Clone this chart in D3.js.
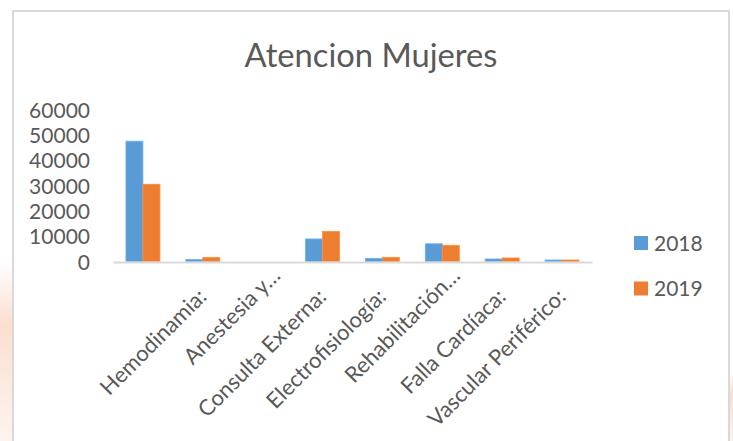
<!DOCTYPE html>
<html><head><meta charset="utf-8">
<script src="https://cdn.jsdelivr.net/npm/d3@7"></script>
<style>html,body{margin:0;padding:0;background:#fff;}svg{display:block;}</style>
</head><body>
<script>
const categories = ["", "Hemodinamia:", "Anestesia y…", "Consulta Externa:", "Electrofisiología:", "Rehabilitación…", "Falla Cardíaca:", "Vascular Periférico:"];
const seriesNames = ["2018", "2019"];
const values2018 = [47500, 800, 0, 8900, 1250, 7000, 1000, 600];
const values2019 = [30500, 1600, 0, 11900, 1650, 6400, 1400, 600];
const yTicks = [0, 10000, 20000, 30000, 40000, 50000, 60000];
const colors = ["#5b9bd5", "#ed7d31"];
const title = "Atencion Mujeres";

const W = 733, H = 441;
const font = "Lato, 'Open Sans', sans-serif";
const txt = "#595959";
const svg = d3.select("body").append("svg").attr("width", W).attr("height", H);

// faint slide background outside chart
const defs = svg.append("defs");
const g1 = defs.append("linearGradient").attr("id","bgL").attr("x1",0).attr("y1",0).attr("x2",0).attr("y2",1);
g1.append("stop").attr("offset","0").attr("stop-color","#f4a27a").attr("stop-opacity",0);
g1.append("stop").attr("offset","0.35").attr("stop-color","#f4a27a").attr("stop-opacity",0.35);
g1.append("stop").attr("offset","1").attr("stop-color","#f4a27a").attr("stop-opacity",0.12);
svg.append("rect").attr("x",0).attr("y",262).attr("width",12).attr("height",179).attr("fill","url(#bgL)");
svg.append("rect").attr("x",730).attr("y",370).attr("width",3).attr("height",71).attr("fill","url(#bgL)");

// chart area
svg.append("rect").attr("x",13).attr("y",11).attr("width",716).attr("height",440)
  .attr("fill","#fff").attr("stroke","#d9d9d9").attr("stroke-width",2);

svg.append("text").attr("x",371).attr("y",67).attr("text-anchor","middle")
  .attr("font-family",font).attr("font-size",32.7).attr("fill",txt).text(title);

const x = d3.scaleBand().domain(categories.map((c,i)=>i)).range([113, 592]).padding(0);
const y = d3.scaleLinear().domain([0, 60000]).range([261.5, 109.5]);
const groupW = x.bandwidth() / 1.76;
const xs = d3.scaleBand().domain(seriesNames).range([0, groupW]).padding(0);

const data = [values2018, values2019];
data.forEach((vals, si) => {
  svg.append("g").selectAll("rect").data(vals).join("rect")
    .attr("x", (d,i) => x(i) + (x.bandwidth()-groupW)/2 + xs(seriesNames[si]))
    .attr("y", d => y(d))
    .attr("width", xs.bandwidth())
    .attr("height", d => y(0) - y(d))
    .attr("fill", colors[si])
    .attr("stroke", d3.color(colors[si]).brighter(0.4))
    .attr("stroke-width", 0.8);
});

// y axis (labels only)
const yAxis = d3.axisLeft(y).tickValues(yTicks).tickSize(0).tickPadding(0).tickFormat(d3.format("d"));
const ya = svg.append("g").attr("transform","translate(90,0)").call(yAxis);
ya.select(".domain").remove();
ya.selectAll("text").attr("font-family",font).attr("font-size",21).attr("fill",txt).attr("dy","0.36em");

// x axis line + labels
const xAxis = d3.axisBottom(x).tickSize(0).tickFormat(i => categories[i]);
const xa = svg.append("g").attr("transform","translate(0,262)").call(xAxis);
xa.select(".domain").attr("stroke","#d9d9d9").attr("stroke-width",2);
xa.selectAll("text")
  .attr("font-family",font).attr("font-size",22).attr("fill",txt)
  .attr("text-anchor","end").attr("dy",null).attr("y",null)
  .attr("transform", d => {
    const trunc = categories[d].endsWith("…");
    const dx = trunc ? 19 : 5;
    const dy = trunc ? 15 : 36;
    return `translate(${dx},${dy}) rotate(-45)`;
  });

// legend
const lg = svg.append("g");
seriesNames.forEach((s, i) => {
  const ly = 243 + i*45.5;
  lg.append("rect").attr("x",634).attr("y",ly-7).attr("width",14).attr("height",14).attr("fill",colors[i]);
  lg.append("text").attr("x",654).attr("y",ly).attr("dy","0.36em")
    .attr("font-family",font).attr("font-size",21).attr("fill",txt).text(s);
});
</script>
</body></html>
